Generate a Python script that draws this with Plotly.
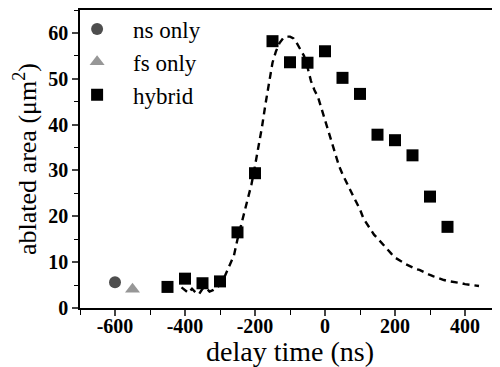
import plotly.graph_objects as go

# --- data ---
ns_x = [-600]
ns_y = [5.6]
fs_x = [-550]
fs_y = [4.1]
hyb_x = [-450, -400, -350, -300, -250, -200, -150, -100, -50, 0, 50, 100, 150, 200, 250, 300, 350]
hyb_y = [4.6, 6.4, 5.4, 5.8, 16.5, 29.4, 58.2, 53.6, 53.5, 56.0, 50.2, 46.7, 37.8, 36.6, 33.3, 24.3, 17.7]

curve_x = [-410, -400, -390, -380, -370, -360, -350, -340, -330, -320, -310, -300,
           -290, -280, -270, -260, -250, -240, -230, -220, -210, -200, -190, -180,
           -170, -160, -150, -140, -130, -120, -110, -100, -90, -80, -70, -60, -50,
           -40, -30, -20, -10, 0, 10, 20, 30, 40, 50, 60, 70, 80, 90, 100, 110, 120,
           130, 140, 150, 160, 170, 180, 190, 200, 210, 220, 230, 240, 250, 260, 270,
           280, 290, 300, 310, 320, 330, 340, 350, 360, 370, 380, 390, 400, 410, 420,
           430, 440]
curve_y = [4.5, 3.8, 3.3, 4.2, 3.4, 3.0, 4.2, 4.4, 3.6, 3.9, 4.4, 5.0,
           6.3, 8.0, 9.8, 11.5, 15.0, 18.0, 20.5, 23.5, 27.0, 31.0, 35.0, 39.5,
           44.5, 49.5, 53.5, 56.0, 57.8, 58.8, 59.2, 59.2, 58.8, 57.7, 56.5, 55.0, 52.5,
           49.5, 47.5, 46.0, 43.5, 41.0, 38.5, 35.8, 33.5, 31.0, 29.2, 27.5, 26.0, 24.5,
           23.0, 21.5, 19.5, 18.3, 17.0, 16.0, 15.2, 14.3, 13.4, 12.7, 11.8, 11.0, 10.6,
           10.1, 9.6, 9.2, 8.8, 8.5, 8.3, 7.9, 7.5, 7.2, 6.9, 6.6, 6.4, 6.1, 5.9, 5.8,
           5.6, 5.5, 5.4, 5.2, 5.1, 5.0, 4.9, 4.8]

x_ticks = [-600, -400, -200, 0, 200, 400]
x_ticktext = ["-600", "-400", "-200", "0", "200", "400"]
y_ticks = [0, 10, 20, 30, 40, 50, 60]
y_ticktext = ["0", "10", "20", "30", "40", "50", "60"]

FONT = "Liberation Serif"

fig = go.Figure()
fig.add_trace(go.Scatter(x=curve_x, y=curve_y, mode="lines", showlegend=False,
                         line=dict(color="black", width=2.4, dash="7px,5px")))
fig.add_trace(go.Scatter(x=ns_x, y=ns_y, mode="markers", name="ns only",
                         marker=dict(symbol="circle", size=12, color="#4e4e4e",
                                     line=dict(width=0))))
fig.add_trace(go.Scatter(x=fs_x, y=fs_y, mode="markers", name="fs only",
                         marker=dict(symbol="triangle-up", size=13, color="#979797",
                                     line=dict(width=0))))
fig.add_trace(go.Scatter(x=hyb_x, y=hyb_y, mode="markers", name="hybrid",
                         marker=dict(symbol="square", size=12, color="black",
                                     line=dict(width=0))))

# the page body adds an 8 px offset, so the figure is 8 px smaller each way
fig.update_layout(
    width=492, height=359,
    margin=dict(l=72, r=0, t=2, b=59, autoexpand=False),
    paper_bgcolor="white", plot_bgcolor="white",
    font=dict(family=FONT, color="black", size=20),
    showlegend=True,
    legend=dict(x=-0.045, y=1.0084, xanchor="left", yanchor="top",
                bgcolor="rgba(0,0,0,0)", font=dict(family=FONT, size=23),
                itemwidth=62, tracegroupgap=0),
    xaxis=dict(range=[-700, 500], tickvals=x_ticks, ticktext=x_ticktext,
               ticks="outside", ticklen=6, tickwidth=1.5, showline=True,
               linecolor="black", linewidth=1.5, mirror=True, showgrid=False,
               zeroline=False, ticklabelstandoff=-7,
               minor=dict(dtick=100, tick0=0, ticks="outside", ticklen=5, tickwidth=1.2,
                          tickcolor="black", showgrid=False),
               tickfont=dict(family=FONT, size=20, weight="bold"),
               title=dict(text="delay time (ns)", font=dict(family=FONT, size=28), standoff=6)),
    yaxis=dict(range=[0, 65], tickvals=y_ticks, ticktext=y_ticktext,
               ticks="outside", ticklen=6, tickwidth=1.5, showline=True,
               linecolor="black", linewidth=1.5, mirror=False, showgrid=False,
               zeroline=False,
               minor=dict(dtick=5, tick0=0, ticks="outside", ticklen=4, tickwidth=1.2,
                          tickcolor="black", showgrid=False),
               tickfont=dict(family=FONT, size=20, weight="bold"),
               title=dict(text="ablated area (μm<sup>2</sup>)", font=dict(family=FONT, size=26),
                          standoff=4)),
)

fig.write_html("out.html")
